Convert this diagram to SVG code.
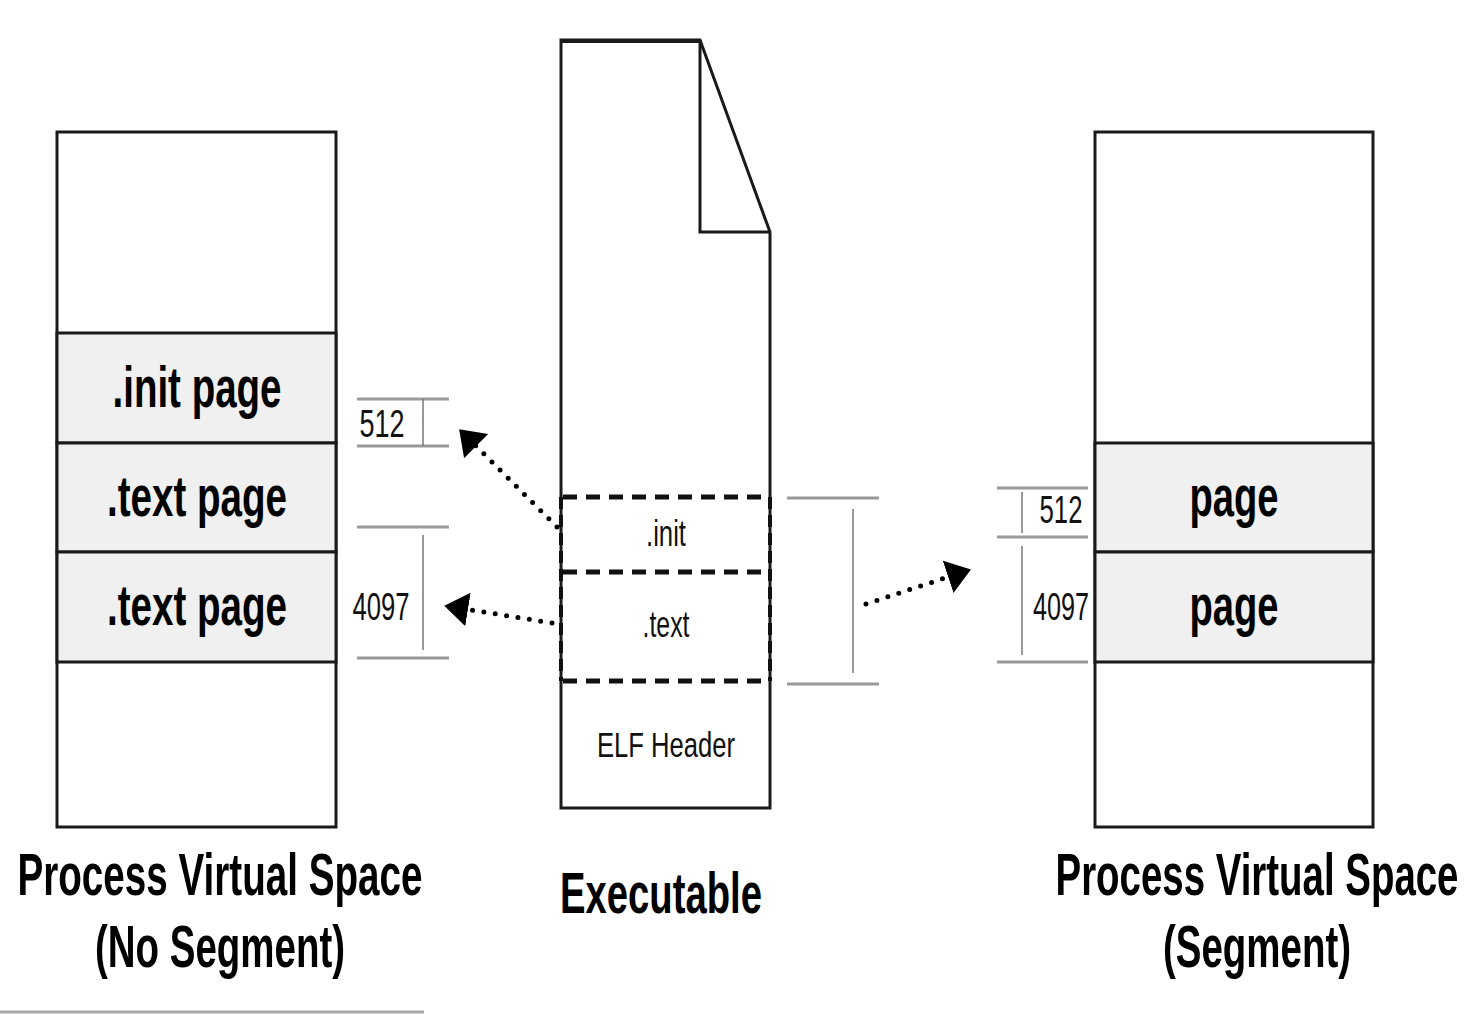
<svg xmlns="http://www.w3.org/2000/svg" width="1482" height="1014" viewBox="0 0 1482 1014">
<defs>
<style>
.box{fill:#fff;stroke:#1a1a1a;stroke-width:3}
.cell{fill:#f0f0f0;stroke:#1a1a1a;stroke-width:3}
.big{font-family:"Liberation Sans",Arial,sans-serif;font-weight:bold;font-size:38.5px;fill:#000;text-anchor:middle}
.sm{font-family:"Liberation Sans",Arial,sans-serif;font-size:26px;fill:#111;text-anchor:middle}
.dimh{stroke:#9a9a9a;stroke-width:3;fill:none}
.dimv{stroke:#777;stroke-width:1.5;fill:none}
.dash{stroke:#111;stroke-width:5;stroke-dasharray:14 9;fill:none}
.dashv{stroke:#111;stroke-width:4;stroke-dasharray:12 6;fill:none}
.dot{stroke:#000;stroke-width:5;stroke-linecap:round;stroke-dasharray:0 11.5;fill:none}
</style>
<marker id="ah" markerUnits="userSpaceOnUse" markerWidth="26" markerHeight="36" viewBox="0 0 26 36" refX="3" refY="18" orient="auto">
<path d="M0,1 L24,18 L0,35 Z" fill="#000"/>
</marker>
</defs>
<rect width="1482" height="1014" fill="#fff"/>

<g id="left-space">
<rect class="box" x="57" y="132" width="279" height="695"/>
<rect class="cell" x="57" y="333" width="279" height="110"/>
<rect class="cell" x="57" y="443" width="279" height="109"/>
<rect class="cell" x="57" y="552" width="279" height="110"/>
<text class="big" transform="translate(197,407) scale(1,1.5)" textLength="169" lengthAdjust="spacingAndGlyphs">.init page</text>
<text class="big" transform="translate(197,516) scale(1,1.5)" textLength="180" lengthAdjust="spacingAndGlyphs">.text page</text>
<text class="big" transform="translate(197,625) scale(1,1.5)" textLength="180" lengthAdjust="spacingAndGlyphs">.text page</text>
<text class="big" transform="translate(220,895) scale(1,1.56)" textLength="405" lengthAdjust="spacingAndGlyphs">Process Virtual Space</text>
<text class="big" transform="translate(220,967) scale(1,1.56)" textLength="250" lengthAdjust="spacingAndGlyphs">(No Segment)</text>
</g>

<g id="left-dims">
<line class="dimh" x1="357" y1="399" x2="449" y2="399"/>
<line class="dimh" x1="357" y1="446" x2="449" y2="446"/>
<line class="dimv" x1="423" y1="399" x2="423" y2="446"/>
<text class="sm" transform="translate(382,437) scale(1,1.46)" textLength="45" lengthAdjust="spacingAndGlyphs">512</text>
<line class="dimh" x1="357" y1="527" x2="449" y2="527"/>
<line class="dimh" x1="357" y1="658" x2="449" y2="658"/>
<line class="dimv" x1="423" y1="535" x2="423" y2="650"/>
<text class="sm" transform="translate(381,620) scale(1,1.46)" textLength="57" lengthAdjust="spacingAndGlyphs">4097</text>
</g>

<g id="executable">
<path class="box" d="M561,40 L700,40 L770,232 L770,808 L561,808 Z"/>
<line x1="561" y1="41" x2="700" y2="41" stroke="#1a1a1a" stroke-width="4"/>
<path d="M700,40 L700,232 L770,232" fill="none" stroke="#1a1a1a" stroke-width="3"/>
<line class="dash" x1="563" y1="497" x2="770" y2="497"/>
<line class="dash" x1="563" y1="572" x2="770" y2="572"/>
<line class="dash" x1="563" y1="681" x2="770" y2="681"/>
<line class="dashv" x1="561" y1="497" x2="561" y2="681"/>
<line class="dashv" x1="770" y1="497" x2="770" y2="681"/>
<text class="sm" transform="translate(666,546) scale(1,1.4)" textLength="40" lengthAdjust="spacingAndGlyphs">.init</text>
<text class="sm" transform="translate(666,637) scale(1,1.4)" textLength="47" lengthAdjust="spacingAndGlyphs">.text</text>
<text class="sm" transform="translate(666,757) scale(1,1.35)" textLength="138" lengthAdjust="spacingAndGlyphs">ELF Header</text>
<text class="big" transform="translate(661,913) scale(1,1.5)" textLength="202" lengthAdjust="spacingAndGlyphs">Executable</text>
</g>

<g id="mid-dims">
<line class="dimh" x1="787" y1="498" x2="879" y2="498"/>
<line class="dimh" x1="787" y1="684" x2="879" y2="684"/>
<line class="dimv" x1="853" y1="509" x2="853" y2="673"/>
</g>

<g id="right-space">
<rect class="box" x="1095" y="132" width="278" height="695"/>
<rect class="cell" x="1095" y="443" width="278" height="109"/>
<rect class="cell" x="1095" y="552" width="278" height="110"/>
<text class="big" transform="translate(1234,516) scale(1,1.5)" textLength="89" lengthAdjust="spacingAndGlyphs">page</text>
<text class="big" transform="translate(1234,625) scale(1,1.5)" textLength="89" lengthAdjust="spacingAndGlyphs">page</text>
<text class="big" transform="translate(1257,895) scale(1,1.56)" textLength="403" lengthAdjust="spacingAndGlyphs">Process Virtual Space</text>
<text class="big" transform="translate(1257,967) scale(1,1.56)" textLength="188" lengthAdjust="spacingAndGlyphs">(Segment)</text>
</g>

<g id="right-dims">
<line class="dimh" x1="997" y1="488" x2="1088" y2="488"/>
<line class="dimh" x1="997" y1="537" x2="1088" y2="537"/>
<line class="dimh" x1="997" y1="662" x2="1088" y2="662"/>
<line class="dimv" x1="1022" y1="492" x2="1022" y2="533"/>
<line class="dimv" x1="1022" y1="546" x2="1022" y2="655"/>
<text class="sm" transform="translate(1061,523) scale(1,1.46)" textLength="43" lengthAdjust="spacingAndGlyphs">512</text>
<text class="sm" transform="translate(1061,620) scale(1,1.46)" textLength="56" lengthAdjust="spacingAndGlyphs">4097</text>
</g>

<g id="connectors">
<path class="dot" d="M557,527 L474,444" marker-end="url(#ah)"/>
<path class="dot" d="M552,623 L465,609" marker-end="url(#ah)"/>
<path class="dot" d="M866,604 L951,576" marker-end="url(#ah)"/>
</g>

<line x1="0" y1="1012" x2="424" y2="1012" stroke="#aaa" stroke-width="3"/>
</svg>
